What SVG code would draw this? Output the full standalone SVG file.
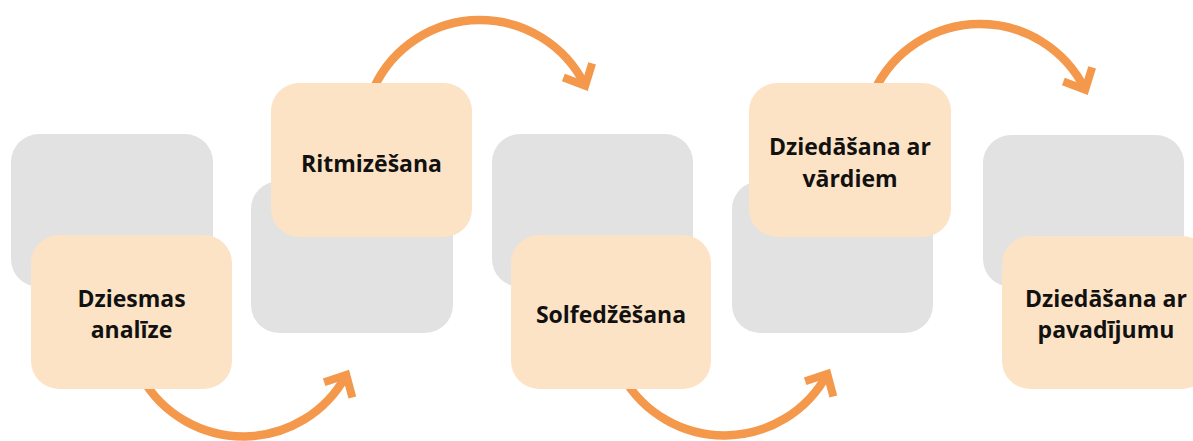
<svg xmlns="http://www.w3.org/2000/svg" width="1193" height="441" viewBox="0 0 1193 441">
  <defs>
    <style>
      .back { fill: #E2E2E2; }
      .front { fill: #FDE3C5; }
      .label { font-family: "Open Sans", "Noto Sans", "Liberation Sans", sans-serif; font-weight: 700; font-size: 23px; fill: #111111; text-anchor: middle; }
      .flow { fill: none; stroke: #F4984C; stroke-width: 8.5; marker-end: url(#chevron); }
    </style>
    <marker id="chevron" markerUnits="userSpaceOnUse" markerWidth="40" markerHeight="40" refX="0" refY="0" orient="auto" overflow="visible">
      <path d="M -17 -16 L 0 0 L -17 16" fill="none" stroke="#F4984C" stroke-width="8" stroke-linejoin="miter"/>
    </marker>
  </defs>

  <rect width="1193" height="441" fill="#FFFFFF"/>

  <!-- curved arrows between the steps -->
  <g id="connectors">
    <path class="flow" d="M 141.7 377.5 A 117 117 0 0 0 346.3 374.9"/>
    <path class="flow" d="M 374 87.6 A 117 117 0 0 1 585.2 85.7"/>
    <path class="flow" d="M 622.7 376.5 A 117 117 0 0 0 827.3 373.9"/>
    <path class="flow" d="M 874 91.6 A 117 117 0 0 1 1085.2 89.7"/>
  </g>

  <g id="step1">
    <rect class="back" x="11" y="134" width="202" height="153" rx="28"/>
    <rect class="front" x="31" y="235" width="201" height="154" rx="28"/>
    <text class="label" x="131.5" y="307">Dziesmas</text>
    <text class="label" x="131.5" y="338">analīze</text>
  </g>

  <g id="step2">
    <rect class="back" x="251" y="181" width="202" height="152" rx="28"/>
    <rect class="front" x="271" y="83" width="201" height="154" rx="28"/>
    <text class="label" x="371.5" y="172">Ritmizēšana</text>
  </g>

  <g id="step3">
    <rect class="back" x="492" y="134" width="201" height="153" rx="28"/>
    <rect class="front" x="511" y="235" width="200" height="154" rx="28"/>
    <text class="label" x="611" y="323">Solfedžēšana</text>
  </g>

  <g id="step4">
    <rect class="back" x="732" y="181" width="201" height="152" rx="28"/>
    <rect class="front" x="749" y="83" width="202" height="154" rx="28"/>
    <text class="label" x="850" y="155">Dziedāšana ar</text>
    <text class="label" x="850" y="187">vārdiem</text>
  </g>

  <g id="step5">
    <rect class="back" x="983" y="135" width="201" height="152" rx="28"/>
    <rect class="front" x="1002" y="236" width="208" height="153" rx="28"/>
    <text class="label" x="1106" y="307">Dziedāšana ar</text>
    <text class="label" x="1106" y="338">pavadījumu</text>
  </g>
</svg>
